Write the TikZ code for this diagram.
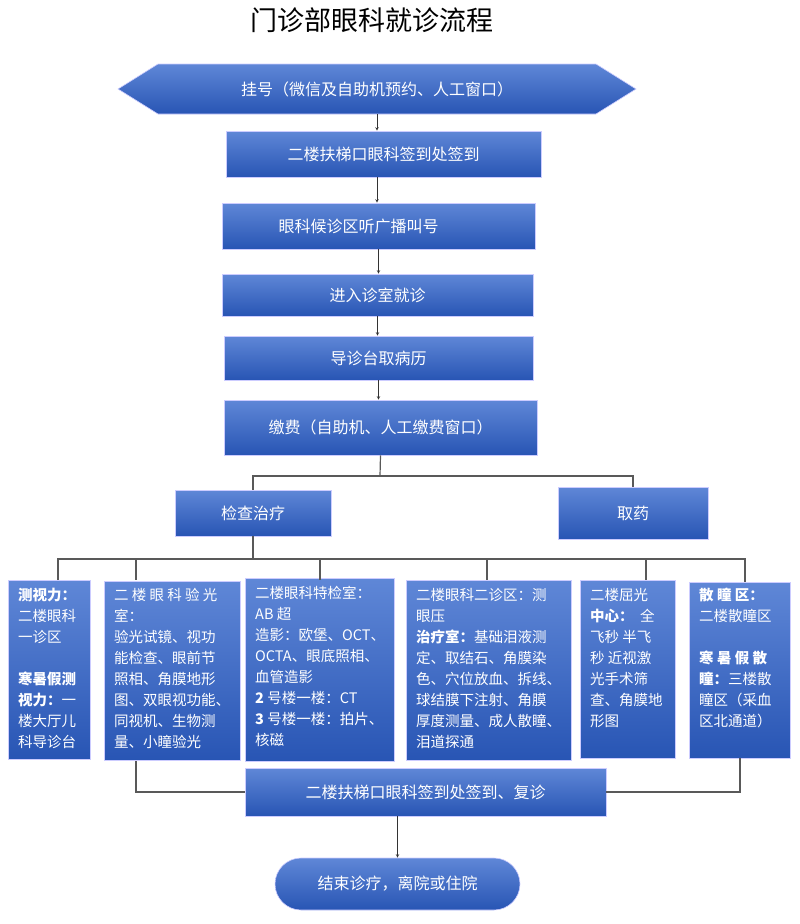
\documentclass[tikz,border=0pt]{standalone}
\usepackage{fontspec}
\setmainfont{Noto Sans CJK SC}
\usetikzlibrary{shapes.misc,shapes.geometric,calc}
\begin{document}
\begin{tikzpicture}[x=1pt,y=-1pt,
  bluebox/.style={draw=white!80!blue,line width=0.6pt,top color={rgb,255:red,95;green,135;blue,215},bottom color={rgb,255:red,40;green,85;blue,180},text=white,inner sep=0pt},
  mtext/.style={font=\fontsize{16}{20}\selectfont},
  dtext/.style={font=\fontsize{14.5}{21}\selectfont,align=left,anchor=north west,text=white,inner sep=0pt},
  arr/.style={->,>=stealth,line width=0.6pt,black!80},
  ln/.style={line width=1.2pt,black!65}]
\useasboundingbox (0,0) rectangle (800,924);
\node (title) at (372,20) {\fontsize{27}{30}\selectfont 门诊部眼科就诊流程};
% hexagon
\path[bluebox] (118,89) -- (158,64) -- (596,64) -- (636,89) -- (596,114) -- (158,114) -- cycle;
\node[mtext,text=white] (n1) at (377,89) {挂号（微信及自助机预约、人工窗口）};
\coordinate (n1b) at (377,114);
\node[bluebox,mtext,minimum width=315,minimum height=46] (n2) at (383.5,154) {二楼扶梯口眼科签到处签到};
\node[bluebox,mtext,minimum width=313,minimum height=46] (n3) at (378.5,226) {眼科候诊区听广播叫号\hspace*{40pt}};
\node[bluebox,mtext,minimum width=311,minimum height=42] (n4) at (377.5,295) {进入诊室就诊};
\node[bluebox,mtext,minimum width=309,minimum height=44] (n5) at (378.5,358) {导诊台取病历};
\node[bluebox,mtext,minimum width=313,minimum height=55] (n6) at (380.5,427.5) {缴费（自助机、人工缴费窗口）};
\node[bluebox,mtext,minimum width=156,minimum height=46] (jc) at (253,513) {检查治疗};
\node[bluebox,mtext,minimum width=150,minimum height=52] (qy) at (633,513) {取药};
\draw[arr] (n1b) -- (n2.north -| n1b);
\draw[arr] (377,177) -- (n3.north -| 377,0);
\draw[arr] (n3.south) -- (n4.north -| n3.south);
\draw[arr] (n4.south) -- (n5.north -| n4.south);
\draw[arr] (n5.south) -- (n6.north -| n5.south);
\draw[ln] (n6.south) -- (380,476) coordinate (j1);
\draw[ln] (jc.north) |- (j1) -| (qy.north);
% detail boxes
\node[bluebox,minimum width=82,minimum height=179,anchor=north west] (d1) at (8,580) {};
\node[bluebox,minimum width=136,minimum height=179,anchor=north west] (d2) at (104,581) {};
\node[bluebox,minimum width=149,minimum height=183,anchor=north west] (d3) at (245,578) {};
\node[bluebox,minimum width=165,minimum height=180,anchor=north west] (d4) at (406,580) {};
\node[bluebox,minimum width=95,minimum height=178,anchor=north west] (d5) at (580,580) {};
\node[bluebox,minimum width=101,minimum height=176,anchor=north west] (d6) at (689,582) {};
\node[dtext] (t1) at (18,588) {\textbf{测视力：}\\二楼眼科\\一诊区\\[21pt]\textbf{寒暑假测}\\\textbf{视力：}一\\楼大厅儿\\科导诊台};
\node[dtext] (t2) at (114,588) {二 楼 眼 科 验 光\\室：\\验光试镜、视功\\能检查、眼前节\\照相、角膜地形\\图、双眼视功能、\\同视机、生物测\\量、小瞳验光};
\node[dtext] (t3) at (255,586) {二楼眼科特检室：\\AB 超\\造影：欧堡、OCT、\\OCTA、眼底照相、\\血管造影\\\textbf{2} 号楼一楼：CT\\\textbf{3} 号楼一楼：拍片、\\核磁};
\node[dtext] (t4) at (416,588) {二楼眼科二诊区：测\\眼压\\\textbf{治疗室：}基础泪液测\\定、取结石、角膜染\\色、穴位放血、拆线、\\球结膜下注射、角膜\\厚度测量、成人散瞳、\\泪道探通};
\node[dtext] (t5) at (590,588) {二楼屈光\\\textbf{中心：}\ \ 全\\飞秒 半飞\\秒 近视激\\光手术筛\\查、角膜地\\形图};
\node[dtext] (t6) at (699,588) {\textbf{散 瞳 区：}\\二楼散瞳区\\[21pt]\textbf{寒 暑 假 散}\\\textbf{瞳：}三楼散\\瞳区（采血\\区北通道）};
\draw[ln] (jc.south) -- (253,559) coordinate (j2);
\draw[ln] (58,580) -- (58,559) -- (745,559) -- (745,582);
\foreach \x in {136,320,487,646} \draw[ln] (\x,559) -- (\x,580);
% final
\node[bluebox,mtext,minimum width=361,minimum height=48] (f) at (425.5,792) {二楼扶梯口眼科签到处签到、复诊};
\draw[ln] (136,761) |- (f.west);
\draw[ln] (740,758) |- (f.east);
\node[bluebox,mtext,rounded rectangle,minimum width=245,minimum height=52] (end) at (397.5,884) {结束诊疗，离院或住院};
\draw[arr] (f.south -| end.north) -- (end.north);
\end{tikzpicture}
\end{document}
